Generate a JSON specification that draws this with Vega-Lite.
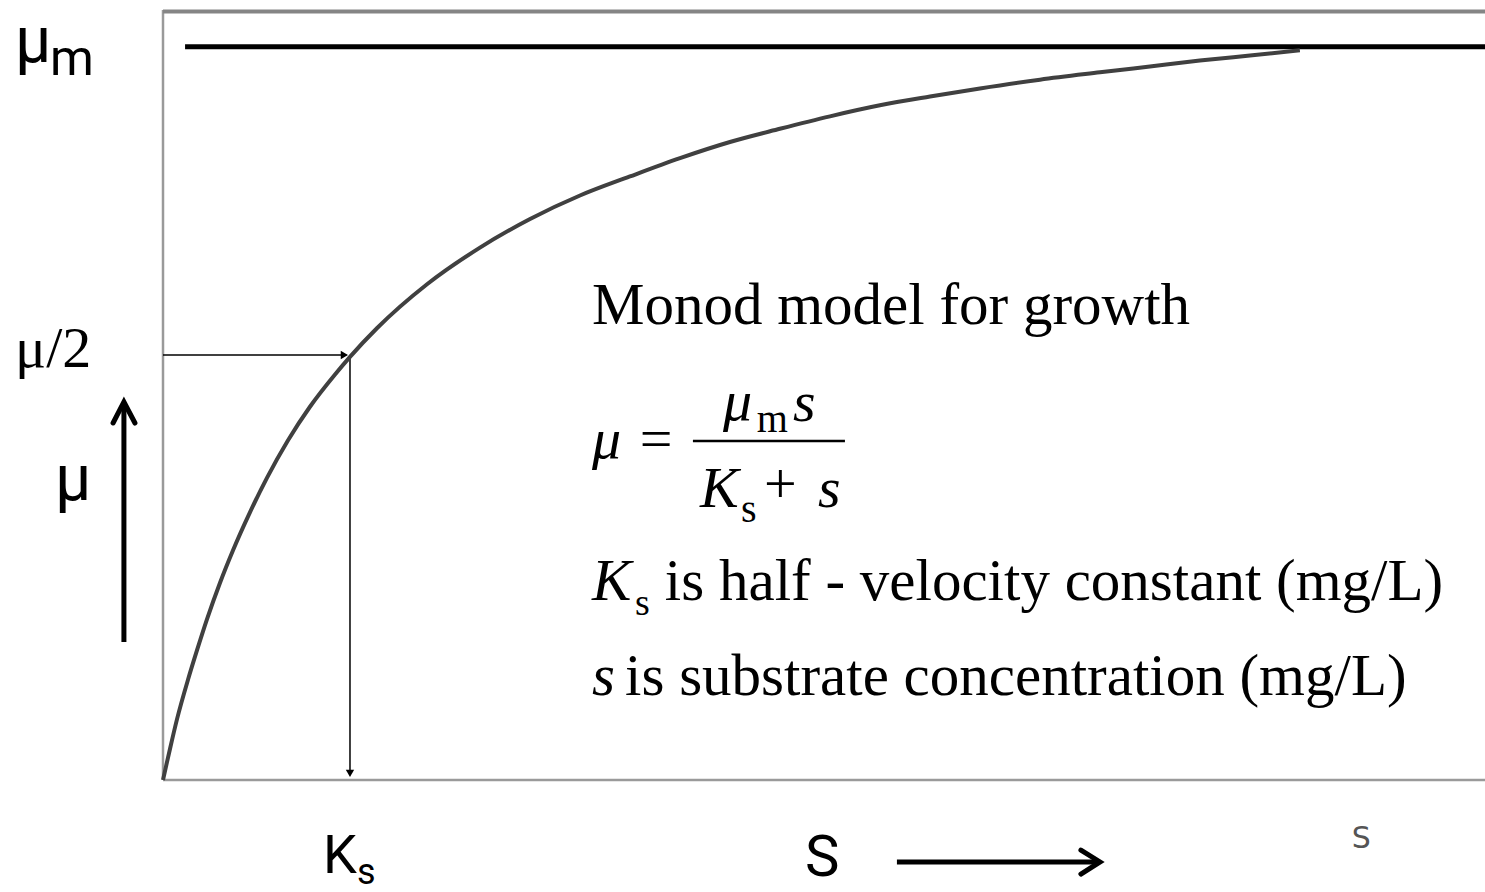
{
  "$schema": "https://vega.github.io/schema/vega-lite/v6.json",
  "width": 1322,
  "height": 770,
  "padding": {"left": 163, "top": 10, "right": 0, "bottom": 112},
  "autosize": {"type": "none"},
  "background": "white",
  "config": {"view": {"stroke": null}, "axis": null},
  "datasets": {
    "curve": [
      {"s": 0, "mu": 0}, {"s": 0.21, "mu": 0.024}, {"s": 0.37, "mu": 0.042}, {"s": 0.75, "mu": 0.083},
      {"s": 1.34, "mu": 0.137}, {"s": 1.82, "mu": 0.177}, {"s": 2.35, "mu": 0.219}, {"s": 3.05, "mu": 0.269},
      {"s": 3.74, "mu": 0.313}, {"s": 4.65, "mu": 0.365}, {"s": 5.56, "mu": 0.412}, {"s": 6.68, "mu": 0.463},
      {"s": 7.86, "mu": 0.509}, {"s": 9.2, "mu": 0.553}, {"s": 10.0, "mu": 0.577}, {"s": 11.44, "mu": 0.616},
      {"s": 14.12, "mu": 0.676}, {"s": 16.95, "mu": 0.726}, {"s": 19.63, "mu": 0.765}, {"s": 22.3, "mu": 0.797},
      {"s": 24.97, "mu": 0.823}, {"s": 27.65, "mu": 0.848}, {"s": 30.32, "mu": 0.87}, {"s": 32.99, "mu": 0.888},
      {"s": 35.67, "mu": 0.905}, {"s": 38.34, "mu": 0.92}, {"s": 41.02, "mu": 0.932}, {"s": 43.69, "mu": 0.943},
      {"s": 46.9, "mu": 0.955}, {"s": 50.11, "mu": 0.965}, {"s": 52.78, "mu": 0.973}, {"s": 55.45, "mu": 0.981},
      {"s": 58.13, "mu": 0.988}, {"s": 60.8, "mu": 0.995}
    ],
    "frameThin": [
      {"s": 0, "s2": 0, "mu": 0, "mu2": 1.05},
      {"s": 0, "s2": 70.7, "mu": 0, "mu2": 0}
    ],
    "frameTop": [{"s": 0, "s2": 70.7, "mu": 1.048, "mu2": 1.048}],
    "mum": [{"s": 1.18, "s2": 70.7, "mu": 1.0, "mu2": 1.0}],
    "guides": [
      {"s": 0, "s2": 9.8, "mu": 0.5795, "mu2": 0.5795},
      {"s": 10.0, "s2": 10.0, "mu": 0.5795, "mu2": 0.01}
    ],
    "headRight": [{"s": 9.7, "mu": 0.5795}],
    "headDown": [{"s": 10.0, "mu": 0.009}],
    "thick": [
      {"s": -2.09, "s2": -2.09, "mu": 0.1882, "mu2": 0.512},
      {"s": 39.25, "s2": 50.0, "mu": -0.1118, "mu2": -0.1118}
    ],
    "chevrons": [
      {"id": "up", "o": 1, "s": -2.67, "mu": 0.4868},
      {"id": "up", "o": 2, "s": -2.09, "mu": 0.5155},
      {"id": "up", "o": 3, "s": -1.5, "mu": 0.4868},
      {"id": "right", "o": 1, "s": 49.09, "mu": -0.0955},
      {"id": "right", "o": 2, "s": 50.11, "mu": -0.1118},
      {"id": "right", "o": 3, "s": 49.09, "mu": -0.1282}
    ],
    "frac": [{"s": 28.34, "s2": 36.47, "mu": 0.4623, "mu2": 0.4623}],
    "serif59": [
      {"label": "Monod model for growth", "s": 22.94, "mu": 0.6218},
      {"label": "is half - velocity constant (mg/L)", "s": 26.84, "mu": 0.2455},
      {"label": "is substrate concentration (mg/L)", "s": 24.71, "mu": 0.1159}
    ],
    "serif59i": [
      {"label": "K", "s": 22.94, "mu": 0.2455},
      {"label": "s", "s": 22.94, "mu": 0.1159}
    ],
    "serif38": [{"label": "s", "s": 25.24, "mu": 0.225}],
    "formulaI": [
      {"label": "μ", "s": 22.94, "mu": 0.4391},
      {"label": "μ", "s": 29.95, "mu": 0.4909},
      {"label": "s", "s": 33.69, "mu": 0.4895},
      {"label": "K", "s": 28.72, "mu": 0.3723},
      {"label": "s", "s": 35.03, "mu": 0.3723}
    ],
    "formulaN": [
      {"label": "=", "s": 25.5, "mu": 0.4391},
      {"label": "+", "s": 32.14, "mu": 0.3777}
    ],
    "formulaSub": [
      {"label": "m", "s": 31.76, "mu": 0.4745},
      {"label": "s", "s": 30.91, "mu": 0.3518}
    ],
    "sansBig": [
      {"label": "μ", "s": -7.91, "mu": 0.979},
      {"label": "μ", "s": -5.78, "mu": 0.3818}
    ],
    "sansBigS": [{"label": "S", "s": 34.33, "mu": -0.1309}],
    "sansK": [{"label": "K", "s": 8.56, "mu": -0.1268}],
    "sansM": [{"label": "m", "s": -6.04, "mu": 0.962}],
    "sansS": [{"label": "s", "s": 10.37, "mu": -0.1418}],
    "halfLabel": [{"label": "μ/2", "s": -7.91, "mu": 0.5632}],
    "grayS": [{"label": "S", "s": 63.58, "mu": -0.0927}]
  },
  "encoding": {
    "x": {"field": "s", "type": "quantitative", "scale": {"domain": [0, 70.7], "nice": false, "zero": false}, "axis": null},
    "y": {"field": "mu", "type": "quantitative", "scale": {"domain": [0, 1.05], "nice": false, "zero": false}, "axis": null}
  },
  "layer": [
    {"data": {"name": "frameThin"}, "mark": {"type": "rule", "color": "#9a9a9a", "strokeWidth": 2.5},
     "encoding": {"x2": {"field": "s2"}, "y2": {"field": "mu2"}}},
    {"data": {"name": "frameTop"}, "mark": {"type": "rule", "color": "#858585", "strokeWidth": 4},
     "encoding": {"x2": {"field": "s2"}, "y2": {"field": "mu2"}}},
    {"data": {"name": "mum"}, "mark": {"type": "rule", "color": "black", "strokeWidth": 5},
     "encoding": {"x2": {"field": "s2"}, "y2": {"field": "mu2"}}},
    {"data": {"name": "guides"}, "mark": {"type": "rule", "color": "black", "strokeWidth": 1.5},
     "encoding": {"x2": {"field": "s2"}, "y2": {"field": "mu2"}}},
    {"data": {"name": "headRight"}, "mark": {"type": "point", "shape": "triangle-right", "filled": true, "color": "black", "size": 70, "opacity": 1}, "encoding": {}},
    {"data": {"name": "headDown"}, "mark": {"type": "point", "shape": "triangle-down", "filled": true, "color": "black", "size": 70, "opacity": 1}, "encoding": {}},
    {"data": {"name": "curve"}, "mark": {"type": "line", "color": "#404040", "strokeWidth": 4, "interpolate": "monotone"}, "encoding": {}},
    {"data": {"name": "thick"}, "mark": {"type": "rule", "color": "black", "strokeWidth": 5},
     "encoding": {"x2": {"field": "s2"}, "y2": {"field": "mu2"}}},
    {"data": {"name": "chevrons"}, "mark": {"type": "line", "color": "black", "strokeWidth": 5, "strokeCap": "round", "strokeJoin": "miter"},
     "encoding": {"detail": {"field": "id"}, "order": {"field": "o"}}},
    {"data": {"name": "frac"}, "mark": {"type": "rule", "color": "black", "strokeWidth": 2.5},
     "encoding": {"x2": {"field": "s2"}, "y2": {"field": "mu2"}}},
    {"data": {"name": "serif59"}, "mark": {"type": "text", "font": "Liberation Serif", "fontSize": 59, "align": "left", "baseline": "alphabetic", "color": "black"},
     "encoding": {"text": {"field": "label"}}},
    {"data": {"name": "serif59i"}, "mark": {"type": "text", "font": "Liberation Serif", "fontStyle": "italic", "fontSize": 59, "align": "left", "baseline": "alphabetic", "color": "black"},
     "encoding": {"text": {"field": "label"}}},
    {"data": {"name": "serif38"}, "mark": {"type": "text", "font": "Liberation Serif", "fontSize": 38, "align": "left", "baseline": "alphabetic", "color": "black"},
     "encoding": {"text": {"field": "label"}}},
    {"data": {"name": "formulaI"}, "mark": {"type": "text", "font": "Liberation Serif", "fontStyle": "italic", "fontSize": 58, "align": "left", "baseline": "alphabetic", "color": "black"},
     "encoding": {"text": {"field": "label"}}},
    {"data": {"name": "formulaN"}, "mark": {"type": "text", "font": "Liberation Serif", "fontSize": 58, "align": "left", "baseline": "alphabetic", "color": "black"},
     "encoding": {"text": {"field": "label"}}},
    {"data": {"name": "formulaSub"}, "mark": {"type": "text", "font": "Liberation Serif", "fontSize": 40, "align": "left", "baseline": "alphabetic", "color": "black"},
     "encoding": {"text": {"field": "label"}}},
    {"data": {"name": "sansBig"}, "mark": {"type": "text", "font": "Roboto", "fontSize": 64, "align": "left", "baseline": "alphabetic", "color": "black"},
     "encoding": {"text": {"field": "label"}}},
    {"data": {"name": "sansBigS"}, "mark": {"type": "text", "font": "Roboto", "fontSize": 58, "align": "left", "baseline": "alphabetic", "color": "black"},
     "encoding": {"text": {"field": "label"}}},
    {"data": {"name": "sansK"}, "mark": {"type": "text", "font": "Roboto", "fontSize": 54, "align": "left", "baseline": "alphabetic", "color": "black"},
     "encoding": {"text": {"field": "label"}}},
    {"data": {"name": "sansM"}, "mark": {"type": "text", "font": "Roboto", "fontSize": 50, "align": "left", "baseline": "alphabetic", "color": "black"},
     "encoding": {"text": {"field": "label"}}},
    {"data": {"name": "sansS"}, "mark": {"type": "text", "font": "Roboto", "fontSize": 36, "align": "left", "baseline": "alphabetic", "color": "black"},
     "encoding": {"text": {"field": "label"}}},
    {"data": {"name": "halfLabel"}, "mark": {"type": "text", "font": "Liberation Serif", "fontSize": 58, "align": "left", "baseline": "alphabetic", "color": "black"},
     "encoding": {"text": {"field": "label"}}},
    {"data": {"name": "grayS"}, "mark": {"type": "text", "font": "DejaVu Sans", "fontSize": 30, "align": "left", "baseline": "alphabetic", "color": "#555555"},
     "encoding": {"text": {"field": "label"}}}
  ]
}
